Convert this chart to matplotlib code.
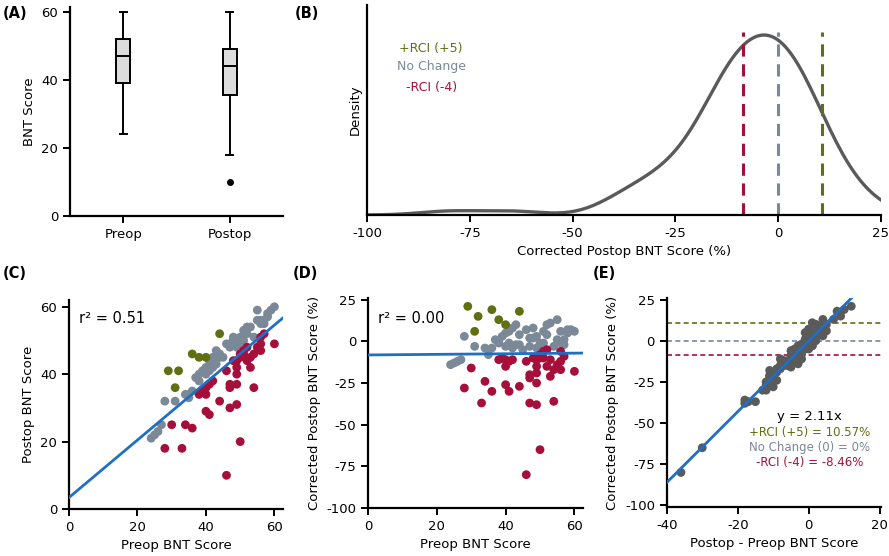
import numpy as np
import matplotlib
matplotlib.use("Agg")
import matplotlib.pyplot as plt
import seaborn as sns

# --- data ---------------------------------------------------------------
# +RCI (improved by >= 5)
pre_up = [29, 32, 31, 36, 38, 40, 44]
post_up = [41, 41, 36, 46, 45, 45, 52]
corr_up = [21, 15, 6, 19, 13, 10, 18]

# no reliable change
pre_nc = [24, 25, 26, 27, 28, 31, 34, 35, 35, 36, 37, 38, 38, 39, 40, 40, 41, 41, 42, 42,
          43, 43, 44, 44, 45, 46, 47, 47, 48, 48, 49, 49, 50, 50, 51, 51, 52, 52, 53, 54,
          55, 55, 56, 56, 57, 57, 58, 58, 60, 59]
post_nc = [21, 22, 23, 25, 32, 32, 34, 33, 34, 35, 39, 40, 38, 41, 42, 40, 44, 41, 45, 42,
           47, 43, 45, 46, 45, 49, 48, 49, 51, 50, 50, 48, 51, 48, 50, 53, 52, 54, 54, 51,
           59, 56, 56, 55, 56, 55, 58, 57, 60, 59]
corr_nc = [-14, -13, -12, -11, 3, -3, -4, -8, -5, -4, 1, 0, -1, 3, 5, -3, 6, -1, 8, -4,
           10, -2, -2, 4, -5, 7, -3, 2, 8, 2, 3, -4, -1, -5, -1, 6, 4, 10, 11, -3,
           13, 1, 6, -1, 1, -2, 7, 5, 6, 7]

# -RCI (declined by >= 4)
pre_dn = [28, 30, 33, 34, 36, 38, 39, 40, 40, 41, 40, 42, 41, 44, 46, 46, 47, 47, 47, 48,
          49, 49, 49, 49, 49, 50, 50, 50, 51, 51, 52, 52, 53, 53, 54, 54, 55, 56, 56, 56,
          57, 60]
post_dn = [18, 25, 18, 25, 24, 34, 35, 34, 29, 28, 36, 38, 37, 32, 10, 41, 36, 37, 30, 44,
           31, 37, 40, 42, 44, 20, 46, 45, 46, 47, 44, 48, 42, 45, 36, 46, 48, 47, 49, 51,
           52, 49]
corr_dn = [-28, -16, -37, -24, -30, -11, -10, -15, -26, -30, -11, -11, -12, -27, -80, -12, -22, -20, -37, -10,
           -38, -25, -19, -15, -11, -65, -8, -10, -10, -6, -15, -5, -21, -11, -36, -17, -14, -17, -12, -6,
           -9, -18]

rci_up, rci_nc, rci_dn = 10.57, 0.0, -8.46

GREEN = '#5f6f12'
GREY = '#7a8898'
RED = '#a50f3a'
BLUE = '#1f6fc4'
DARK = '#5a5a5a'

pre = np.array(pre_up + pre_nc + pre_dn, dtype=float)
post = np.array(post_up + post_nc + post_dn, dtype=float)
corr = np.array(corr_up + corr_nc + corr_dn, dtype=float)

plt.rcParams['font.size'] = 9.5
plt.rcParams['axes.unicode_minus'] = False
plt.rcParams['axes.linewidth'] = 1.6
plt.rcParams['xtick.major.width'] = 1.4
plt.rcParams['ytick.major.width'] = 1.4
plt.rcParams['xtick.major.size'] = 5
plt.rcParams['ytick.major.size'] = 5

fig = plt.figure(figsize=(8.89, 5.56), dpi=100)

axA = fig.add_axes([0.0787, 0.6115, 0.2396, 0.3759])
axB = fig.add_axes([0.4128, 0.6133, 0.5782, 0.3777])
axC = fig.add_axes([0.0776, 0.0845, 0.2407, 0.3759])
axD = fig.add_axes([0.414, 0.0863, 0.2418, 0.3777])
axE = fig.add_axes([0.750, 0.0881, 0.2407, 0.3759])

for ax in (axA, axB, axC, axD, axE):
    ax.spines['top'].set_visible(False)
    ax.spines['right'].set_visible(False)

# (A) box plots
axA.boxplot([pre, post], positions=[0, 1], widths=0.13, patch_artist=True,
            boxprops=dict(facecolor='#dcdcdc', edgecolor='black', linewidth=1.4),
            medianprops=dict(color='black', linewidth=1.4),
            whiskerprops=dict(color='black', linewidth=1.4),
            capprops=dict(color='black', linewidth=1.4),
            flierprops=dict(marker='o', markerfacecolor='black', markeredgecolor='black', markersize=4))
axA.set_xlim(-0.5, 1.5)
axA.set_ylim(0, 61.5)
axA.set_yticks([0, 20, 40, 60])
axA.set_xticks([0, 1])
axA.set_xticklabels(['Preop', 'Postop'])
axA.set_ylabel('BNT Score')

# (B) density of corrected scores
sns.kdeplot(x=corr, ax=axB, color=DARK, linewidth=2.4, bw_adjust=1.12)
peak = axB.lines[0].get_ydata().max()
axB.set_xlim(-100, 25)
axB.set_ylim(0, peak * 1.167)
for xv, c in [(rci_dn, RED), (rci_nc, GREY), (rci_up, GREEN)]:
    axB.vlines(xv, 0, peak * 1.017, colors=c, linestyles=(0, (4, 2.5)), linewidth=2.2)
axB.set_yticks([])
axB.set_xticks([-100, -75, -50, -25, 0, 25])
axB.set_ylabel('Density')
axB.set_xlabel('Corrected Postop BNT Score (%)')
axB.text(0.125, 0.795, '+RCI (+5)', fontsize=9, color=GREEN, ha='center', va='center', transform=axB.transAxes)
axB.text(0.125, 0.705, 'No Change', fontsize=9, color=GREY, ha='center', va='center', transform=axB.transAxes)
axB.text(0.125, 0.605, '-RCI (-4)', fontsize=9, color=RED, ha='center', va='center', transform=axB.transAxes)

# (C) postop vs preop
for p, q, c in [(pre_nc, post_nc, GREY), (pre_up, post_up, GREEN), (pre_dn, post_dn, RED)]:
    axC.scatter(p, q, s=40, color=c, edgecolors='none', zorder=2)
b1, b0 = np.polyfit(pre, post, 1)
xx = np.array([0, 62.5])
axC.plot(xx, b0 + b1 * xx, color=BLUE, linewidth=2, zorder=3)
axC.set_xlim(0, 62.5)
axC.set_ylim(0, 62)
axC.set_xticks([0, 20, 40, 60])
axC.set_yticks([0, 20, 40, 60])
axC.set_xlabel('Preop BNT Score')
axC.set_ylabel('Postop BNT Score')
axC.text(3, 56.5, 'r² = 0.51', fontsize=10.5, va='center')

# (D) corrected vs preop
for p, q, c in [(pre_nc, corr_nc, GREY), (pre_up, corr_up, GREEN), (pre_dn, corr_dn, RED)]:
    axD.scatter(p, q, s=40, color=c, edgecolors='none', zorder=2)
d1, d0 = np.polyfit(pre, corr, 1)
axD.plot(xx, d0 + d1 * xx, color=BLUE, linewidth=2, zorder=3)
axD.set_xlim(0, 62.5)
axD.set_ylim(-100, 26)
axD.set_xticks([0, 20, 40, 60])
axD.set_yticks([-100, -75, -50, -25, 0, 25])
axD.set_xlabel('Preop BNT Score')
axD.set_ylabel('Corrected Postop BNT Score (%)')
axD.text(3, 14, 'r² = 0.00', fontsize=10.5, va='center')

# (E) corrected vs raw change
diff = post - pre
for yv, c in [(rci_up, GREEN), (rci_nc, GREY), (rci_dn, RED)]:
    axE.axhline(yv, color=c, linestyle=(0, (3, 2)), linewidth=1.2, zorder=1)
axE.scatter(diff, corr, s=40, color=DARK, edgecolors='none', zorder=2)
slope = np.sum(diff * corr) / np.sum(diff * diff)
xe = np.array([-40, diff.max()])
axE.plot(xe, slope * xe, color=BLUE, linewidth=2, zorder=3)
axE.set_xlim(-40, 20.3)
axE.set_ylim(-101, 26)
axE.set_xticks([-40, -20, 0, 20])
axE.set_yticks([-100, -75, -50, -25, 0, 25])
axE.set_xlabel('Postop - Preop BNT Score')
axE.set_ylabel('Corrected Postop BNT Score (%)')
axE.text(0.2, -46, 'y = 2.11x', fontsize=9.5, ha='center', va='center')
axE.text(0.2, -56, '+RCI (+5) = 10.57%', fontsize=8.5, color=GREEN, ha='center', va='center')
axE.text(0.2, -65, 'No Change (0) = 0%', fontsize=8.5, color=GREY, ha='center', va='center')
axE.text(0.2, -74, '-RCI (-4) = -8.46%', fontsize=8.5, color=RED, ha='center', va='center')

for lbl, x, y in [('(A)', 0.003, 0.975), ('(B)', 0.332, 0.975),
                  ('(C)', 0.003, 0.508), ('(D)', 0.329, 0.508), ('(E)', 0.667, 0.508)]:
    fig.text(x, y, lbl, fontsize=10.5, fontweight='bold', va='center', ha='left')

fig.savefig('out.png', dpi=100)
